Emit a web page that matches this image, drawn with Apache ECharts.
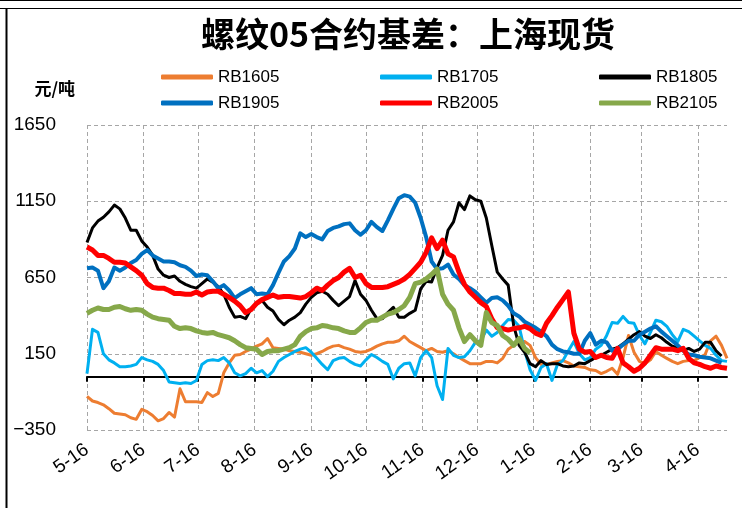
<!DOCTYPE html>
<html>
<head>
<meta charset="utf-8">
<title>螺纹05合约基差：上海现货</title>
<script src="https://cdn.jsdelivr.net/npm/echarts@6/dist/echarts.min.js"></script>
</head>
<body style="margin:0">
<div id="main" style="width:742px;height:508px;"></div>
<script>
// 横轴：5-16 到次年 5-2 的每一天；各合约基差每 3 天取一个点
var dayCount = 352;
var step = 3;
var monthTicks = ['5-16', '6-16', '7-16', '8-16', '9-16', '10-16', '11-16', '12-16', '1-16', '2-16', '3-16', '4-16'];

var rb1605 = [-130, -160, -170, -185, -210, -240, -245, -250, -270, -280,
    -215, -230, -255, -290, -275, -235, -265, -80, -165, -165,
    -165, -170, -105, -130, -110, 25, 90, 140, 145, 165,
    180, 200, 215, 250, 190, 185, 180, 170, 165, 160,
    150, 140, 150, 165, 185, 200, 205, 190, 180, 165,
    160, 165, 180, 200, 215, 225, 225, 235, 265, 230,
    210, 190, 170, 185, 165, 160, 170, 150, 125, 105,
    85, 85, 85, 100, 100, 90, 120, 180, 205, 225,
    230, 205, 125, 80, 80, 90, 100, 105, 90, 70,
    65, 60, 45, 40, 20, 35, 55, 15, 125, 270,
    160, 100, 85, 110, 165, 140, 120, 100, 85, 100,
    105, 105, 125, 145, 235, 265, 205, 120];
var rb1705 = [20, 310, 290, 150, 110, 90, 65, 65, 70, 80,
    125, 110, 100, 80, 40, -35, -40, -45, -40, -45,
    -25, 80, 105, 110, 105, 125, 90, 25, 5, 20,
    55, 25, 40, 0, 35, 100, 125, 145, 165, 180,
    190, 160, 120, 80, 45, 105, 120, 125, 100, 80,
    70, 110, 145, 125, 100, 80, -15, 55, 85, 90,
    5, 125, 170, 125, -60, -150, 185, 140, 125, 130,
    170, 225, 235, 305, 265, 290, 335, 375, 370, 330,
    170, 45, -25, 60, 85, -25, 80, 105, 170, 230,
    150, 110, 125, 180, 205, 270, 355, 350, 395, 355,
    350, 270, 215, 290, 370, 360, 330, 275, 230, 310,
    295, 265, 235, 205, 185, 140, 105, 100];
var rb1805 = [880, 975, 1020, 1045, 1080, 1125, 1100, 1040, 960, 960,
    890, 850, 795, 705, 665, 650, 660, 625, 605, 590,
    580, 610, 640, 620, 590, 540, 455, 390, 395, 380,
    445, 475, 500, 455, 430, 375, 340, 370, 390, 420,
    475, 520, 550, 560, 540, 500, 465, 495, 525, 630,
    540, 500, 435, 380, 380, 420, 455, 390, 390, 415,
    435, 575, 625, 620, 715, 795, 960, 1015, 1140, 1095,
    1185, 1160, 1150, 1040, 860, 685, 640, 600, 335, 205,
    160, 85, 65, 105, 80, 85, 85, 70, 65, 70,
    90, 85, 105, 125, 140, 160, 180, 190, 215, 245,
    275, 295, 265, 250, 275, 255, 225, 200, 190, 170,
    185, 165, 180, 225, 225, 170, 135];
var rb1905 = [710, 715, 695, 580, 625, 715, 695, 715, 745, 765,
    805, 830, 795, 775, 755, 755, 750, 730, 720, 695,
    660, 670, 665, 625, 580, 600, 565, 515, 540, 560,
    580, 540, 545, 540, 600, 680, 755, 790, 840, 940,
    915, 935, 915, 900, 955, 975, 985, 1000, 1005, 960,
    930, 960, 1015, 980, 955, 1025, 1100, 1170, 1190, 1180,
    1140, 1040, 915, 755, 705, 710, 735, 670, 640, 600,
    580, 555, 520, 485, 515, 520, 500, 465, 415, 395,
    360, 340, 320, 295, 265, 210, 180, 165, 160, 150,
    150, 235, 285, 210, 235, 225, 170, 180, 210, 235,
    235, 275, 295, 315, 330, 295, 265, 235, 205, 170,
    145, 140, 130, 125, 120, 105, 90];
var rb2005 = [850, 830, 795, 795, 775, 750, 750, 745, 720, 695,
    665, 610, 585, 580, 580, 565, 545, 545, 540, 540,
    555, 535, 555, 560, 560, 540, 520, 495, 465, 420,
    440, 480, 505, 520, 535, 520, 525, 525, 520, 515,
    525, 550, 580, 565, 600, 630, 650, 685, 710, 650,
    665, 610, 585, 585, 585, 590, 605, 620, 640, 670,
    710, 750, 815, 910, 840, 895, 805, 785, 685, 605,
    555, 520, 485, 460, 380, 320, 315, 305, 315, 320,
    330, 315, 285, 270, 350, 400, 455, 505, 555, 285,
    180, 160, 165, 125, 140, 125, 120, 185, 90, 65,
    35, 55, 90, 140, 190, 180, 180, 180, 170, 185,
    120, 90, 80, 65, 55, 70, 60, 55];
var rb2105 = [415, 435, 450, 440, 440, 455, 460, 445, 435, 440,
    435, 410, 390, 380, 375, 370, 330, 315, 320, 315,
    300, 290, 285, 290, 275, 265, 255, 235, 210, 190,
    185, 180, 145, 165, 170, 170, 180, 190, 210, 265,
    295, 315, 320, 335, 330, 320, 315, 300, 290, 290,
    320, 355, 370, 370, 390, 410, 420, 440, 465, 520,
    610, 620, 640, 670, 705, 540, 475, 435, 320, 230,
    275, 235, 205, 420, 355, 335, 270, 245, 205, 250,
    185, 155];

var days = [];
var d = new Date(2018, 4, 16);
for (var i = 0; i < dayCount; i++) {
    days.push((d.getMonth() + 1) + '-' + d.getDate());
    d.setDate(d.getDate() + 1);
}

function toPoints(arr) {
    return arr.map(function (v, i) { return [i * step, v]; });
}
function isMonthTick(idx, value) {
    return monthTicks.indexOf(value) >= 0;
}
function line(name, data, color, width) {
    return {
        name: name,
        type: 'line',
        data: toPoints(data),
        showSymbol: false,
        symbol: 'none',
        itemStyle: {color: color},
        lineStyle: {color: color, width: width, join: 'round'}
    };
}

var legendText = {color: '#000', fontSize: 17, fontFamily: 'Liberation Sans', lineHeight: 18};
function legendCol(left, names) {
    return {
        left: left, top: 63, orient: 'vertical', itemGap: 8,
        itemWidth: 52, itemHeight: 5, icon: 'roundRect',
        textStyle: legendText, data: names
    };
}

var myChart = echarts.init(document.getElementById('main'));
myChart.setOption({
    animation: false,
    backgroundColor: '#fff',
    title: {
        text: '螺纹05合约基差：上海现货',
        left: 196, top: 12,
        textStyle: {fontSize: 34, fontWeight: 'bold', color: '#000', fontFamily: 'Noto Sans CJK SC'}
    },
    legend: [
        legendCol(156, ['RB1605', 'RB1905']),
        legendCol(375, ['RB1705', 'RB2005']),
        legendCol(594, ['RB1805', 'RB2105'])
    ],
    grid: {left: 87, right: 15, top: 125, bottom: 78},
    xAxis: [{
        type: 'category',
        data: days,
        boundaryGap: false,
        position: 'bottom',
        axisLine: {onZero: true, lineStyle: {color: '#000', width: 2}},
        axisTick: {show: true, interval: isMonthTick, length: 5, lineStyle: {color: '#000', width: 2}},
        axisLabel: {show: false},
        splitLine: {show: false}
    }, {
        type: 'category',
        data: days,
        boundaryGap: false,
        position: 'bottom',
        axisLine: {show: false, onZero: false},
        axisTick: {show: false},
        axisLabel: {
            interval: isMonthTick, rotate: 35, margin: 18,
            fontSize: 19, color: '#000', fontFamily: 'Liberation Sans'
        },
        splitLine: {show: true, interval: isMonthTick, lineStyle: {color: '#A6A6A6', type: [4, 3], width: 1}}
    }],
    yAxis: {
        type: 'value',
        min: -350, max: 1650, interval: 500,
        name: '元/吨',
        nameLocation: 'end',
        nameGap: 28,
        nameTextStyle: {align: 'right', padding: [0, 12, 0, 0], fontSize: 17, fontWeight: 'bold', color: '#000', fontFamily: 'Noto Sans CJK SC'},
        axisLine: {show: false},
        axisTick: {show: false},
        axisLabel: {
            margin: 31, fontSize: 19, color: '#000', fontFamily: 'Liberation Sans',
            formatter: function (v) { return String(v).replace('-', '\u2212'); }
        },
        splitLine: {lineStyle: {color: '#A6A6A6', type: [4, 3], width: 1}}
    },
    graphic: [
        {type: 'line', shape: {x1: 6.5, y1: 8, x2: 6.5, y2: 508}, style: {stroke: '#000', lineWidth: 2}},
        {type: 'line', shape: {x1: 0, y1: 8.5, x2: 742, y2: 8.5}, style: {stroke: '#000', lineWidth: 1}},
        {type: 'line', shape: {x1: 0, y1: 0.5, x2: 742, y2: 0.5}, style: {stroke: '#000', lineWidth: 1}}
    ],
    series: [
        line('RB1605', rb1605, '#ED7D31', 3),
        line('RB1705', rb1705, '#00B0F0', 3),
        line('RB1805', rb1805, '#000000', 3),
        line('RB1905', rb1905, '#0070C0', 4),
        line('RB2005', rb2005, '#FF0000', 5),
        line('RB2105', rb2105, '#86A84A', 5)
    ]
});
</script>
</body>
</html>
